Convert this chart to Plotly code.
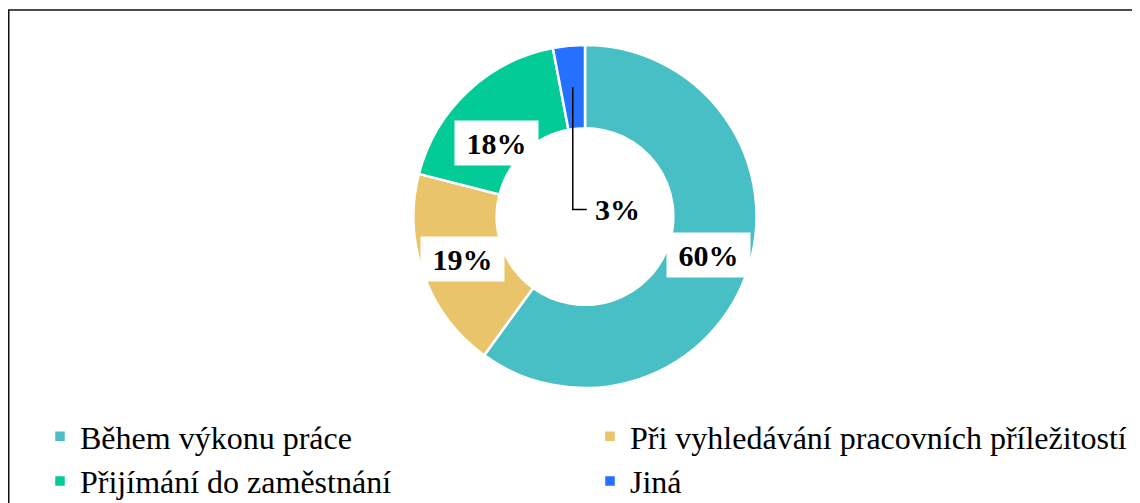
import math
import plotly.graph_objects as go

# ---- data ----
categories = ["Během výkonu práce", "Při vyhledávání pracovních příležitostí",
              "Přijímání do zaměstnání", "Jiná"]
values = [60, 19, 18, 3]
label_texts = ["60%", "19%", "18%", "3%"]
colors = ["#48BFC4", "#E9C46A", "#02CB98", "#2470FF"]

W, H = 1140, 503
# pie geometry (figure pixels; the page adds an 8px body margin)
cx, cy, R = 577, 208.5, 171.5
hole = 0.515
rmid = R * (1 + hole) / 2

LABEL_FONT = dict(family="Liberation Serif, Times New Roman, serif", size=30,
                  color="black", weight="bold")

fig = go.Figure()
fig.add_trace(go.Pie(
    labels=categories, values=values, sort=False, direction="clockwise",
    rotation=0, hole=hole, textinfo="none", hoverinfo="label+percent",
    marker=dict(colors=colors, line=dict(color="white", width=2.5)),
    domain=dict(x=[(cx - R) / W, (cx + R) / W],
                y=[(H - (cy + R)) / H, (H - (cy - R)) / H]),
))

def px2paper(x, y):
    return x / W, 1 - y / H

annotations = []
shapes = []
total = sum(values)
cum = 0
for i, v in enumerate(values):
    mid = (cum + v / 2) / total * 2 * math.pi
    cum += v
    mx = cx + rmid * math.sin(mid)
    my = cy - rmid * math.cos(mid)
    if i < 3:
        px, py = px2paper(mx, my - 2)
        annotations.append(dict(
            x=px, y=py, xref="paper", yref="paper", text=label_texts[i],
            showarrow=False, bgcolor="white", width=75, height=36, borderpad=4,
            font=LABEL_FONT,
        ))
    else:
        # small slice: label placed in the hole with an elbow leader line
        ly = cy - 7
        lx = mx + 45
        x0, y0 = px2paper(mx, my)
        x1, y1 = px2paper(mx, ly)
        x2, y2 = px2paper(mx + 14, ly)
        shapes.append(dict(type="path", xref="paper", yref="paper",
                           path=f"M {x0} {y0} L {x1} {y1} L {x2} {y2}",
                           line=dict(color="black", width=1.5)))
        px, py = px2paper(lx, ly)
        annotations.append(dict(
            x=px, y=py, xref="paper", yref="paper", text=label_texts[i],
            showarrow=False, font=LABEL_FONT,
        ))

# outer frame
shapes.append(dict(type="rect", xref="paper", yref="paper",
                   x0=0.75 / W, x1=1.05, y0=-0.05, y1=1 - 2 / H,
                   line=dict(color="#111111", width=1.5), layer="below"))

fig.update_layout(
    width=W, height=H,
    margin=dict(l=0, r=0, t=0, b=0, autoexpand=False),
    paper_bgcolor="white", plot_bgcolor="white",
    showlegend=True,
    legend=dict(orientation="h", x=32 / W, xanchor="left",
                y=1 - 401 / H, yanchor="top",
                entrywidth=505, entrywidthmode="pixels",
                font=dict(family="Liberation Serif, Times New Roman, serif",
                          size=32, color="black"),
                traceorder="normal", itemclick=False, itemdoubleclick=False),
    annotations=annotations, shapes=shapes,
)

fig.write_html("out.html")
